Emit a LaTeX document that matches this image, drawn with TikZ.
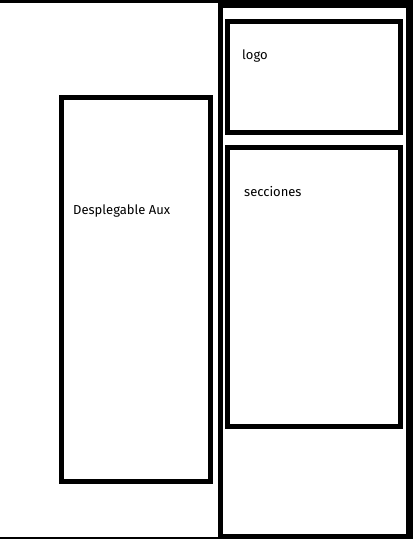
\documentclass[tikz,border=0pt]{standalone}
\usepackage{fontspec}
\setsansfont{Fira Sans}
\usetikzlibrary{positioning}
\tikzset{
  every picture/.style={font=\sffamily\fontsize{13}{15}\selectfont, x=1pt, y=-1pt},
  panel/.style={draw=black, line width=5pt, inner sep=0pt},
  frame/.style={draw=black, line width=2.5pt},
  tag/.style={anchor=base west, inner sep=0pt},
}
\begin{document}
\begin{tikzpicture}
  \useasboundingbox (0,0) rectangle (413,539);
  % window border
  \draw[frame] (0,1.25) -- (411.5,1.25) -- (411.5,537.75) -- (0,537.75);
  % left drop-down
  \node[panel, minimum width=149pt, minimum height=384pt] (aux) at (136,289.5) {};
  \node[tag] (auxtxt) at (73,214) {Desplegable Aux};
  % right column
  \node[panel, minimum width=188pt, minimum height=531pt] (col) at (314.5,271) {};
  \node[panel, minimum width=173pt, minimum height=111pt] (logo) at (314,77) {};
  \node[panel, minimum width=173pt, minimum height=279pt] (secc) at (314,287) {};
  \node[tag] (logotxt) at (242,59) {logo};
  \node[tag] (sectxt) at (244,196) {secciones};
\end{tikzpicture}
\end{document}
